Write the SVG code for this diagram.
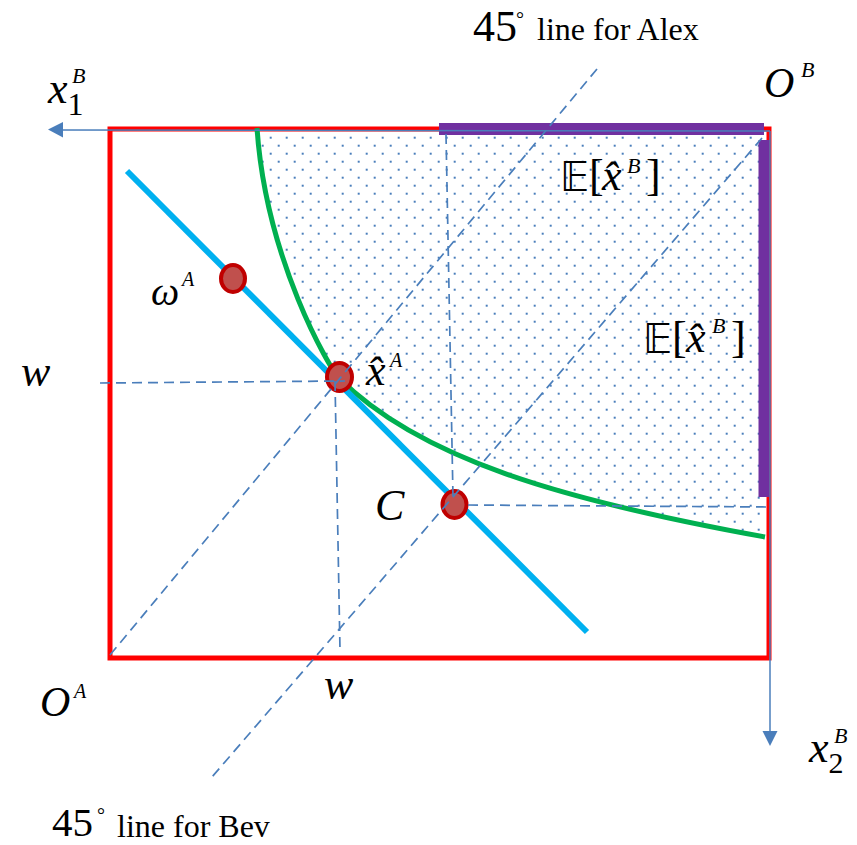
<svg xmlns="http://www.w3.org/2000/svg" width="857" height="845" viewBox="0 0 857 845">
  <defs>
    <pattern id="dots" patternUnits="userSpaceOnUse" x="0" y="0" width="16" height="16">
      <rect x="5.7" y="0.7" width="2" height="2" fill="#4a7ebb"/>
      <rect x="13.7" y="8.7" width="2" height="2" fill="#4a7ebb"/>
    </pattern>
    <style>
      .math { font-family: "Liberation Serif", "Times New Roman", serif; font-style: italic; fill: #000; }
      .rom { font-family: "Liberation Serif", "Times New Roman", serif; fill: #000; }
      .up { font-style: normal; }
      .bb { font-family: "DejaVu Sans", "DejaVu Serif", sans-serif; font-style: normal; }
      .dash { stroke: #4a7ebb; stroke-width: 1.7; stroke-dasharray: 10 6; fill: none; }
      .axis { stroke: #4a7ebb; stroke-width: 1.5; fill: none; }
      .pt { fill: #c0504d; stroke: #c00000; stroke-width: 4; }
    </style>
  </defs>

  <g id="shading">
    <path d="M257,131 L764,131 L764,537 L765,537 C560,500 419,458 339,378 C330,369 266,260 257,128 Z" fill="url(#dots)"/>
  </g>

  <g id="edgeworth-box">
    <rect x="110" y="129" width="659" height="529" fill="none" stroke="#ff0000" stroke-width="5"/>
  </g>

  <g id="purple-bounds">
    <line x1="439" y1="129" x2="764" y2="129" stroke="#7030a0" stroke-width="12"/>
    <line x1="764" y1="140" x2="764" y2="497" stroke="#7030a0" stroke-width="11"/>
  </g>

  <g id="indifference-curve">
    <path d="M257,128 C266,260 330,369 339,378 C419,458 560,500 765,537" fill="none" stroke="#00b050" stroke-width="5"/>
  </g>

  <g id="budget-line">
    <line x1="127" y1="171" x2="587" y2="632" stroke="#00b0f0" stroke-width="6"/>
  </g>

  <g id="point-omega">
    <ellipse cx="233" cy="278.5" rx="12" ry="13.5" class="pt"/>
  </g>
  <g id="point-xhat">
    <ellipse cx="339.5" cy="377" rx="12.5" ry="14" class="pt"/>
  </g>
  <g id="point-C">
    <ellipse cx="454.5" cy="504.5" rx="12" ry="13.5" class="pt"/>
  </g>

  <g id="connectors">
    <line class="dash" x1="100" y1="383" x2="345" y2="381"/>
    <line class="dash" x1="335" y1="381" x2="340" y2="650"/>
    <line class="dash" x1="110" y1="655" x2="597" y2="69"/>
    <line class="dash" x1="762" y1="138" x2="212" y2="777"/>
    <line class="dash" x1="446" y1="134" x2="453" y2="497"/>
    <line class="dash" x1="468" y1="505" x2="768" y2="507"/>
    <line class="axis" x1="770" y1="131" x2="62" y2="130"/>
    <polygon points="48,129.5 63,122 63,137.5" fill="#4a7ebb"/>
    <line class="axis" x1="770" y1="131" x2="770" y2="733"/>
    <polygon points="770,746 762.5,731 777.5,731" fill="#4a7ebb"/>
  </g>

  <g id="labels">
    <text id="label-x1B" class="math"><tspan x="48" y="103" font-size="44">x</tspan><tspan class="up" x="67.5" y="115" font-size="32">1</tspan><tspan x="72" y="83" font-size="22">B</tspan></text>
    <text id="label-OB" class="math"><tspan x="764" y="97" font-size="42">O</tspan><tspan x="801" y="77" font-size="22">B</tspan></text>
    <text id="label-OA" class="math"><tspan x="40" y="716" font-size="42">O</tspan><tspan x="74" y="698" font-size="20">A</tspan></text>
    <text id="label-x2B" class="math"><tspan x="809" y="762" font-size="44">x</tspan><tspan class="up" x="828.5" y="773" font-size="30">2</tspan><tspan x="834" y="743" font-size="22">B</tspan></text>
    <text class="math" x="21" y="386" font-size="44">w</text>
    <text class="math" x="324" y="699" font-size="44">w</text>
    <text id="label-omegaA" class="math"><tspan x="151" y="305" font-size="40">ω</tspan><tspan x="182" y="286" font-size="20">A</tspan></text>
    <text id="label-xhatA" class="math"><tspan x="366" y="385" font-size="44">x̂</tspan><tspan x="390" y="367" font-size="20">A</tspan></text>
    <text class="math" x="375" y="520" font-size="44">C</text>
    <text id="label-ExB-top" class="math" font-size="44"><tspan class="bb" x="560" y="191" font-size="40">𝔼</tspan><tspan class="up" x="589" y="190">[</tspan><tspan x="602" y="190">x̂</tspan><tspan x="627" y="173" font-size="22">B</tspan><tspan class="up" x="646" y="190">]</tspan></text>
    <text id="label-ExB-right" class="math" font-size="44"><tspan class="bb" x="643" y="353" font-size="40">𝔼</tspan><tspan class="up" x="672" y="352">[</tspan><tspan x="686" y="352">x̂</tspan><tspan x="712" y="333" font-size="22">B</tspan><tspan class="up" x="731" y="352">]</tspan></text>
    <text id="label-alex" class="rom"><tspan x="473" y="41" font-size="44">45</tspan><tspan x="516" y="26" font-size="20">°</tspan><tspan x="537" y="40" font-size="32">line for Alex</tspan></text>
    <text id="label-bev" class="rom"><tspan x="52" y="836" font-size="41">45</tspan><tspan x="97" y="822" font-size="20">°</tspan><tspan x="117" y="837" font-size="32">line for Bev</tspan></text>
  </g>
</svg>
